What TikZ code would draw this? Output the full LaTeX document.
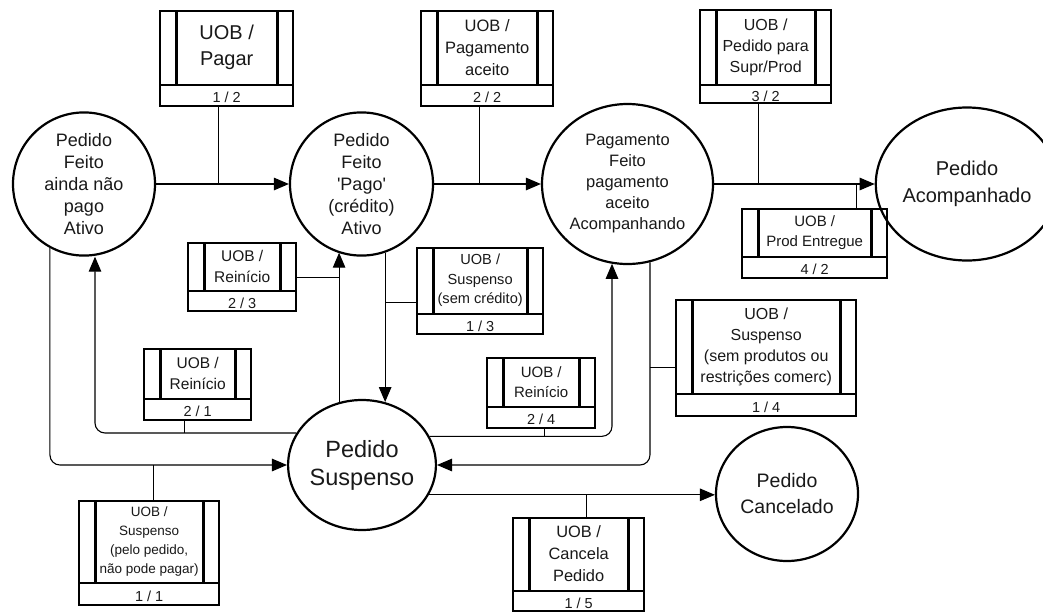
\documentclass[tikz,border=0pt]{standalone}
\usepackage{fontspec}
\setmainfont{Liberation Sans}[Ligatures=TeXOff]
\usetikzlibrary{shapes.geometric,arrows.meta}

\tikzset{
  state/.style={ellipse, draw, line width=2.2pt, align=center, inner sep=0pt, text=black!90},
  uobframe/.style={draw, line width=2.4pt, inner sep=0pt},
  uobrule/.style={line width=2.2pt},
  uobbar/.style={line width=3pt},
  uobtext/.style={align=center, inner sep=0pt, text=black!90},
  uobnum/.style={inner sep=0pt, font=\fontsize{14.5}{16}\selectfont, text=black!90},
  link/.style={line width=1.1pt},
  flow/.style={line width=1.1pt, -{Triangle[length=15pt,width=12.5pt]}},
}

% Event box: [caption font] name, left, top, width, upper height, strip height, caption, number
\newcommand\uob[9][]{%
  \node[uobframe, anchor=north west, minimum width=#5pt, minimum height=#6pt+#7pt] (#2) at (#3,#4) {};
  \draw[uobrule] ([yshift=-#6pt]#2.north west) -- ([yshift=-#6pt]#2.north east);
  \draw[uobbar] ([xshift=17pt]#2.north west) -- ++(0,#6);
  \draw[uobbar] ([xshift=-17pt]#2.north east) -- ++(0,#6);
  \node[uobtext, font=#1] (#2-t) at ([yshift=-#6pt/2]#2.north) {#8};
  \node[uobnum] (#2-n) at ([yshift=#7pt/2]#2.south) {#9};
}

\begin{document}
\begin{tikzpicture}[x=1pt, y=-1pt]
\path[fill=white] (0,0) rectangle (1043,613);
\useasboundingbox (0,0) rectangle (1043,613);

% states
\node[state, minimum width=142pt, minimum height=133pt, font=\fontsize{18}{22}\selectfont]
  (c1) at (84,184) {Pedido\\Feito\\ainda não\\pago\\Ativo};
\node[state, minimum width=143pt, minimum height=130pt, font=\fontsize{18}{22}\selectfont]
  (c2) at (361.5,184) {Pedido\\Feito\\'Pago'\\(crédito)\\Ativo};
\node[state, minimum width=171pt, minimum height=160pt, font=\fontsize{16.5}{21}\selectfont]
  (c3) at (627.5,184) {Pagamento\\Feito\\pagamento\\aceito\\Acompanhando};
\node[state, minimum width=148pt, minimum height=153pt, font=\fontsize{20}{27}\selectfont]
  (c4) at (967,184) {Pedido\\Acompanhado};
\node[state, minimum width=141pt, minimum height=130pt, font=\fontsize{23.5}{28}\selectfont]
  (c5) at (362,465) {Pedido\\Suspenso};
\node[state, minimum width=142pt, minimum height=134pt, font=\fontsize{19.5}{26}\selectfont]
  (c6) at (787,494) {Pedido\\Cancelado};

% event boxes
\uob[\fontsize{20}{26}\selectfont]{b12}{159}{10}{133}{75}{20}{UOB /\\Pagar}{1 / 2}
\uob[\fontsize{16.5}{22}\selectfont]{b22}{420}{10}{132}{75}{20}{UOB /\\Pagamento\\aceito}{2 / 2}
\uob[\fontsize{16}{21}\selectfont]{b32}{699}{9}{131}{76}{17}{UOB /\\Pedido para\\Supr/Prod}{3 / 2}
\uob[\fontsize{15}{20}\selectfont]{b42}{741}{208}{145}{49}{20}{UOB /\\Prod Entregue}{4 / 2}
\uob[\fontsize{15.5}{21}\selectfont]{b23}{187}{242}{108}{49}{19}{UOB /\\Reinício}{2 / 3}
\uob[\fontsize{15.5}{21}\selectfont]{b21}{143}{348}{107}{51}{20}{UOB /\\Reinício}{2 / 1}
\uob[\fontsize{13.5}{19}\selectfont]{b11}{78}{500}{140}{83}{21}{UOB /\\Suspenso\\(pelo pedido,\\não pode pagar)}{1 / 1}
\uob[\fontsize{14.6}{19.5}\selectfont]{b13}{416}{247}{126}{67}{19}{UOB /\\Suspenso\\(sem crédito)}{1 / 3}
\uob[\fontsize{15}{20.5}\selectfont]{b24}{486}{357}{108}{50}{20}{UOB /\\Reinício}{2 / 4}
\uob[\fontsize{16.4}{22}\selectfont]{b15}{512}{517}{131}{74}{19}{UOB /\\Cancela\\Pedido}{1 / 5}
\uob[\fontsize{16}{21}\selectfont]{b14}{675}{299}{180}{95}{21}{UOB /\\Suspenso\\(sem produtos ou\\restrições comerc)}{1 / 4}

% transitions along the top row
\draw[flow] (c1) -- (c2);
\draw[flow] (c2) -- (c3);
\draw[flow] (c3) -- (c4);

% transitions into and out of the suspended state
\draw[flow, rounded corners=10pt] (c1.242) |- (c5.west);
\draw[flow, rounded corners=10pt] (c5.154) -| ([xshift=11pt]c1.south);
\draw[flow] (c5.110) -- (c5.110 |- c2.251);
\draw[flow] (c2.289) -- (c2.289 |- c5.70);
\draw[flow, rounded corners=10pt] (c5.23) -| (c3.259);
\draw[flow, rounded corners=10pt] (c3.286) |- (c5.east);
\draw[flow] (c5.336) -- (c5.336 -| c6.west);

% event boxes tied to their transitions
\draw[link] ([xshift=-8.5pt]b12.south) -- ([xshift=-8.5pt]b12.south |- c1.east);
\draw[link] ([xshift=-8pt]b22.south) -- ([xshift=-8pt]b22.south |- c2.east);
\draw[link] ([xshift=-7.5pt]b32.south) -- ([xshift=-7.5pt]b32.south |- c3.east);
\draw[link] ([xshift=41.5pt]b42.north) -- ([xshift=41.5pt]b42.north |- c4.west);
\draw[link] (b23.east) -- (b23.east -| c5.110);
\draw[link] ([yshift=-11pt]b13.west) -- ([yshift=-11pt]b13.west -| c2.289);
\draw[link] ([xshift=-13.5pt]b21.south) -- ([xshift=-13.5pt]b21.south |- c5.154);
\draw[link] ([xshift=4pt]b11.north) -- ([xshift=4pt]b11.north |- c5.west);
\draw[link] ([xshift=3pt]b24.south) -- ([xshift=3pt]b24.south |- c5.23);
\draw[link] ([yshift=-9pt]b14.west) -- ([yshift=-9pt]b14.west -| c3.286);
\draw[link] ([xshift=7.5pt]b15.north) -- ([xshift=7.5pt]b15.north |- c5.336);
\end{tikzpicture}
\end{document}
